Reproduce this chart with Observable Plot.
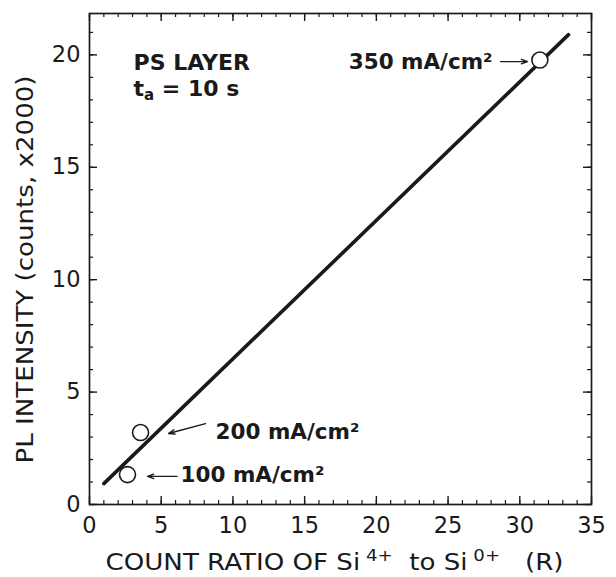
<!DOCTYPE html>
<html>
<head>
<meta charset="utf-8">
<script src="https://cdn.jsdelivr.net/npm/d3@7"></script>
<script src="https://cdn.jsdelivr.net/npm/@observablehq/plot@0.6"></script>
<style>
  html, body { margin: 0; padding: 0; background: #fff; }
  #chart { position: relative; width: 616px; height: 577px; }
  #chart svg { position: absolute; left: 0; top: 0; }
</style>
</head>
<body>
<div id="chart"></div>
<script>
// ---- data ----
const ratio = [2.65, 3.56, 31.4];          // count ratio Si4+/Si0+ (R)
const intensity = [1.33, 3.2, 19.77];      // PL intensity (counts, x2000)
const densityLabels = ["100 mA/cm²", "200 mA/cm²", "350 mA/cm²"];
const labelX = [6.35, 8.79, 28.1];
const labelY = [1.29, 3.2, 19.7];
const labelAnchor = ["start", "start", "end"];
const arrowX1 = [6.1, 8.09, 28.66];
const arrowY1 = [1.25, 3.6, 19.7];
const arrowX2 = [4.05, 5.51, 30.54];
const arrowY2 = [1.25, 3.16, 19.7];
const fitX = [1.0, 33.4];
const fitY = [0.93, 20.9];
const xMajor = [0, 5, 10, 15, 20, 25, 30, 35];
const yMajor = [0, 5, 10, 15, 20];
const xMinor = d3.range(0, 36, 1);
const yMinor = d3.range(0, 22, 1);
const noteLines = ["PS LAYER", "ta = 10 s"];
const noteY = [19.62, 18.5];
const xTitle = "COUNT RATIO OF Si4+ to Si0+ (R)";
const yTitle = "PL INTENSITY (counts, x2000)";

const points = ratio.map((r, i) => ({r, v: intensity[i]}));
const fit = fitX.map((x, i) => ({x, y: fitY[i]}));
const labels = densityLabels.map((t, i) => ({t, x: labelX[i], y: labelY[i], a: labelAnchor[i]}));
const arrows = arrowX1.map((x1, i) => ({x1, y1: arrowY1[i], x2: arrowX2[i], y2: arrowY2[i]}));
const notes = noteLines.map((t, i) => ({t, y: noteY[i]}));

const FONT = "DejaVu Sans";
const INK = "#1a1a1a";
const W = 616, H = 577, ML = 89, MR = 25, MT = 13, MB = 73;
const FW = W - ML - MR, FH = H - MT - MB;
const XD = [0, 35], YD = [0, 21.84];

// inward ticks on all four sides (pixel length via insets)
const tickMarks = [];
for (const [len, xs, ys, sw] of [[4, xMinor, yMinor, 1.2], [8, xMajor, yMajor, 1.4]]) {
  tickMarks.push(Plot.ruleX(xs, {x: d => d, insetTop: FH - len, stroke: INK, strokeWidth: sw}));
  tickMarks.push(Plot.ruleX(xs, {x: d => d, insetBottom: FH - len, stroke: INK, strokeWidth: sw}));
  tickMarks.push(Plot.ruleY(ys, {y: d => d, insetRight: FW - len, stroke: INK, strokeWidth: sw}));
  tickMarks.push(Plot.ruleY(ys, {y: d => d, insetLeft: FW - len, stroke: INK, strokeWidth: sw}));
}

const chart = Plot.plot({
  width: W, height: H,
  marginLeft: ML, marginRight: MR, marginTop: MT, marginBottom: MB,
  style: {background: "#fff", fontFamily: FONT, color: INK},
  x: {domain: XD},
  y: {domain: YD},
  marks: [
    Plot.axisX(xMajor, {anchor: "bottom", tickSize: 0, tickPadding: 13, fontSize: 22.5, label: null, fill: INK}),
    Plot.axisY(yMajor, {anchor: "left", tickSize: 0, tickPadding: 9, fontSize: 22.5, label: null, fill: INK}),
    Plot.frame({stroke: INK, strokeWidth: 1.7, fill: "none"}),
    Plot.line(fit, {x: "x", y: "y", stroke: INK, strokeWidth: 3.6}),
    Plot.dot(points, {x: "r", y: "v", r: 8, fill: "#fff", stroke: INK, strokeWidth: 1.6}),
    Plot.arrow(arrows, {x1: "x1", y1: "y1", x2: "x2", y2: "y2", stroke: INK, strokeWidth: 1.4, headLength: 7, headAngle: 40}),
    Plot.text(labels.filter(d => d.a === "start"), {x: "x", y: "y", text: "t", textAnchor: "start", fontSize: 21.5, fontWeight: "bold", fill: INK}),
    Plot.text(labels.filter(d => d.a === "end"), {x: "x", y: "y", text: "t", textAnchor: "end", fontSize: 21.5, fontWeight: "bold", fill: INK}),
    Plot.text(notes, {x: 3.07, y: "y", text: "t", textAnchor: "start", fontSize: 22, fontWeight: "bold", fill: INK}),
    Plot.text([xTitle], {frameAnchor: "bottom", textAnchor: "middle", lineAnchor: "middle", dx: -6, dy: 58, text: d => d, fontSize: 23, fill: INK}),
    Plot.text([yTitle], {frameAnchor: "left", textAnchor: "middle", lineAnchor: "middle", dx: -64, dy: 10.5, rotate: -90, text: d => d, fontSize: 23, fill: INK})
  ]
});

// tick layer: same scales and margins, drawn on top of the main chart
const ticks = Plot.plot({
  width: W, height: H,
  marginLeft: ML, marginRight: MR, marginTop: MT, marginBottom: MB,
  style: {background: "transparent", color: INK},
  x: {domain: XD, axis: null},
  y: {domain: YD, axis: null},
  marks: tickMarks
});

const host = document.getElementById("chart");
host.appendChild(chart);
host.appendChild(ticks);

// typographic refinements: superscripts, subscript, stretched titles
const svgNS = "http://www.w3.org/2000/svg";
function rebuild(el, parts) {
  while (el.firstChild) el.removeChild(el.firstChild);
  el.style.whiteSpace = "pre";
  for (const [txt, kind] of parts) {
    const ts = document.createElementNS(svgNS, "tspan");
    ts.textContent = txt;
    if (kind === "sup") { ts.setAttribute("font-size", "16"); ts.setAttribute("dy", "-9"); }
    if (kind === "sub") { ts.setAttribute("font-size", "15"); ts.setAttribute("dy", "4"); }
    if (kind === "back-sup") ts.setAttribute("dy", "9");
    if (kind === "back-sub") ts.setAttribute("dy", "-4");
    el.appendChild(ts);
  }
}
chart.querySelectorAll("text").forEach(el => {
  const s = el.textContent;
  if (s === xTitle) {
    rebuild(el, [["COUNT RATIO OF Si", ""], [" 4+", "sup"], ["  to Si", "back-sup"], [" 0+", "sup"], ["   (R)", "back-sup"]]);
    el.setAttribute("textLength", "458");
    el.setAttribute("lengthAdjust", "spacingAndGlyphs");
  } else if (s === yTitle) {
    el.setAttribute("textLength", "388");
    el.setAttribute("lengthAdjust", "spacingAndGlyphs");
  } else if (s === "ta = 10 s") {
    rebuild(el, [["t", ""], ["a", "sub"], [" = 10 s", "back-sub"]]);
  }
});
</script>
</body>
</html>
